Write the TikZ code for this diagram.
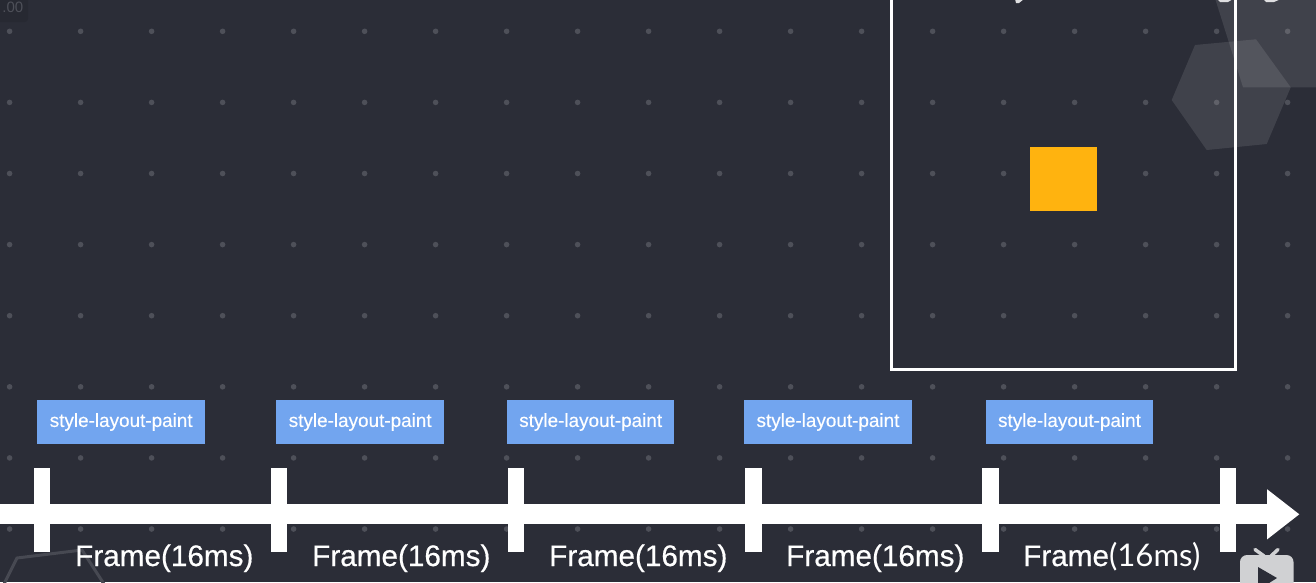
\documentclass[tikz,border=0pt]{standalone}
\usepackage{fontspec}
\setmainfont{Liberation Sans}
\newfontfamily\framefont[RawFeature={embolden=0.5}]{Liberation Sans}
\newfontfamily\boxfont[RawFeature={embolden=0.3}]{Liberation Sans}
\newfontfamily\thinfont[Scale=1.05]{Lato}
\usetikzlibrary{arrows.meta,positioning}
\definecolor{slate}{HTML}{2B2D37}
\definecolor{griddot}{HTML}{4E5059}
\definecolor{paintblue}{HTML}{72A5EF}
\definecolor{squareorange}{HTML}{FFB30F}
\definecolor{tvgray}{HTML}{D0D1D3}
\tikzset{
  paintbox/.style={fill=paintblue, text=white, font=\boxfont\fontsize{18.9}{20}\selectfont,
    minimum width=167.5pt, minimum height=44pt, inner sep=0pt},
  framelabel/.style={text=white, font=\framefont\fontsize{29.7}{32}\selectfont, inner sep=0pt, anchor=base west},
  tickmark/.style={fill=white, minimum width=16.5pt, minimum height=84pt, inner sep=0pt},
  hexpatch/.style={fill=white, fill opacity=0.1}
}
\begin{document}
\begin{tikzpicture}[x=1pt,y=-1pt]
  \useasboundingbox (0,0) rectangle (1316,582);
  \clip (0,0) rectangle (1316,582);
  \fill[slate] (0,0) rectangle (1316,582);
  % Dot grid
  \foreach \i in {0,...,18} \foreach \j in {0,...,7}
    \fill[griddot] (9.6+71*\i,31.3+71.1*\j) circle (2.8);
  % Speed badge, top left
  \fill[black, opacity=0.08, rounded corners=3] (-5,-5) rectangle (28,22);
  \node[text=griddot, font=\fontsize{15}{16}\selectfont, inner sep=0, anchor=base east] (speed) at (23.5,12) {.00};
  % Background hexagons
  \fill[hexpatch] (1195,45) -- (1256,39.3) -- (1290.7,87.3) -- (1266.7,144) -- (1206.7,150) -- (1171.7,100) -- cycle;
  \fill[hexpatch] (1214,-5) -- (1243,87.3) -- (1320,87.3) -- (1320,-5) -- cycle;
  \draw[griddot!80!slate, line width=3] (4,584) -- (17,558) -- (82,550) -- (104,584);
  % Cut-off letters at the top edge
  \fill[white!85!slate] (1015,-1) -- (1024,-1) -- (1019,3) -- (1016,3) -- cycle;
  \fill[white!85!slate] (1217,-1) -- (1233,-1) -- (1228,2) -- (1220,2) -- cycle;
  \fill[white!85!slate] (1263,-1) -- (1281,-1) -- (1274,2) -- (1266,2) -- cycle;
  % Viewport and animated square
  \draw[white, line width=3] (891.5,-10) rectangle (1235.3,369.5);
  \fill[squareorange] (1029.5,147) rectangle (1096.5,211);
  % Time axis
  \coordinate (axisstart) at (-10,514.3);
  \coordinate (axisend) at (1299.5,514.3);
  \draw[white, line width=20, -{Triangle[length=32.5pt,width=48pt]}] (axisstart) -- (axisend);
  \foreach \x/\n in {42.2/1,279.2/2,516.2/3,753.5/4,990.5/5,1228/6}
    \node[tickmark] (tick\n) at (\x,510) {};
  % Paint boxes
  \foreach \x/\n in {121.2/1,360.2/2,590.7/3,828/4,1069.5/5}
    \node[paintbox] (box\n) at (\x,422) {\raisebox{-1pt}{style-layout-paint}};
  % Frame labels
  \foreach \x/\n in {75/1,312/2,549/3,786/4}
    \node[framelabel] (frame\n) at (\x,566) {Frame(16ms)};
  \node[framelabel] (frame5) at (1023,566) {Frame{\thinfont(16ms)}};
  % TV icon
  \draw[tvgray, line width=3.5, line cap=round] (1255,549.5) -- (1264,556);
  \draw[tvgray, line width=3.5, line cap=round] (1278,549.5) -- (1271,556);
  \fill[tvgray, rounded corners=7] (1240,555) rectangle (1293.5,600);
  \fill[slate] (1258,567) -- (1277,578) -- (1258,590) -- cycle;
\end{tikzpicture}
\end{document}
